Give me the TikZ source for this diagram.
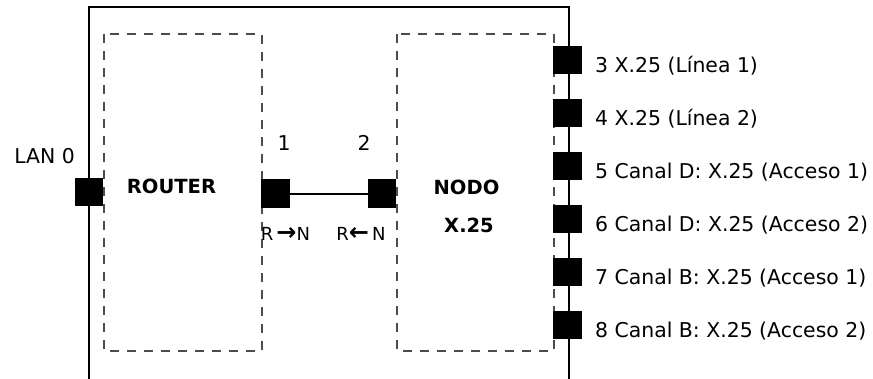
\documentclass[tikz,border=0pt]{standalone}
\usepackage{fontspec}
\setmainfont{DejaVu Sans}
\begin{document}
\begin{tikzpicture}[x=1pt,y=-1pt,
  frame/.style={line width=2pt,black},
  dbox/.style={draw=black!70,line width=1.3pt,dash pattern=on 9pt off 8pt},
  port/.style={fill=black,draw=none,minimum size=28.5pt,inner sep=0pt},
  lbl/.style={inner sep=0pt,font=\fontsize{20.4pt}{24pt}\selectfont},
  blbl/.style={inner sep=0pt,font=\fontsize{19.5pt}{22pt}\selectfont\bfseries},
  slbl/.style={inner sep=0pt,font=\fontsize{18pt}{20pt}\selectfont}]
\useasboundingbox (0,0) rectangle (873,378);
\fill[white] (0,0) rectangle (873,378);
% outer frame
\draw[frame] (89,380) -- (89,7) -- (569,7) -- (569,380);
% dashed boxes
\draw[dbox] (104,34) rectangle (262,351);
\draw[dbox] (397,34) rectangle (554,351);
% ports
\node[port] (lan) at (89,192) {};
\node[port] (p1) at (275.5,193.5) {};
\node[port] (p2) at (382,193.5) {};
\node[port] (p3) at (567.5,60) {};
\node[port] (p4) at (567.5,113) {};
\node[port] (p5) at (567.5,166) {};
\node[port] (p6) at (567.5,219) {};
\node[port] (p7) at (567.5,272) {};
\node[port] (p8) at (567.5,325) {};
\draw[line width=2pt] (p1) -- (p2);
% labels
\node[lbl,anchor=base east] (tlan) at (75,163.5) {LAN 0};
\node[blbl,anchor=base] (trouter) at (171.5,193) {ROUTER};
\node[blbl,anchor=base] (tnodo) at (466.5,194) {NODO};
\node[blbl,anchor=base] (tx25) at (469,232) {X.25};
\node[lbl,anchor=base] (t1) at (284,150) {1};
\node[lbl,anchor=base] (t2) at (364,150) {2};
\node[slbl,anchor=base] (trn) at (285.5,240) {R\,{\fontsize{24pt}{24pt}\selectfont\bfseries →}N};
\node[slbl,anchor=base] (tnr) at (361,240) {R{\fontsize{24pt}{24pt}\selectfont\bfseries ←}\,N};
\node[lbl,anchor=base west] (t3) at (595,72) {3 X.25 (Línea 1)};
\node[lbl,anchor=base west] (t4) at (595,125) {4 X.25 (Línea 2)};
\node[lbl,anchor=base west] (t5) at (595,178) {5 Canal D: X.25 (Acceso 1)};
\node[lbl,anchor=base west] (t6) at (595,231) {6 Canal D: X.25 (Acceso 2)};
\node[lbl,anchor=base west] (t7) at (595,284) {7 Canal B: X.25 (Acceso 1)};
\node[lbl,anchor=base west] (t8) at (595,337) {8 Canal B: X.25 (Acceso 2)};
\end{tikzpicture}
\end{document}
